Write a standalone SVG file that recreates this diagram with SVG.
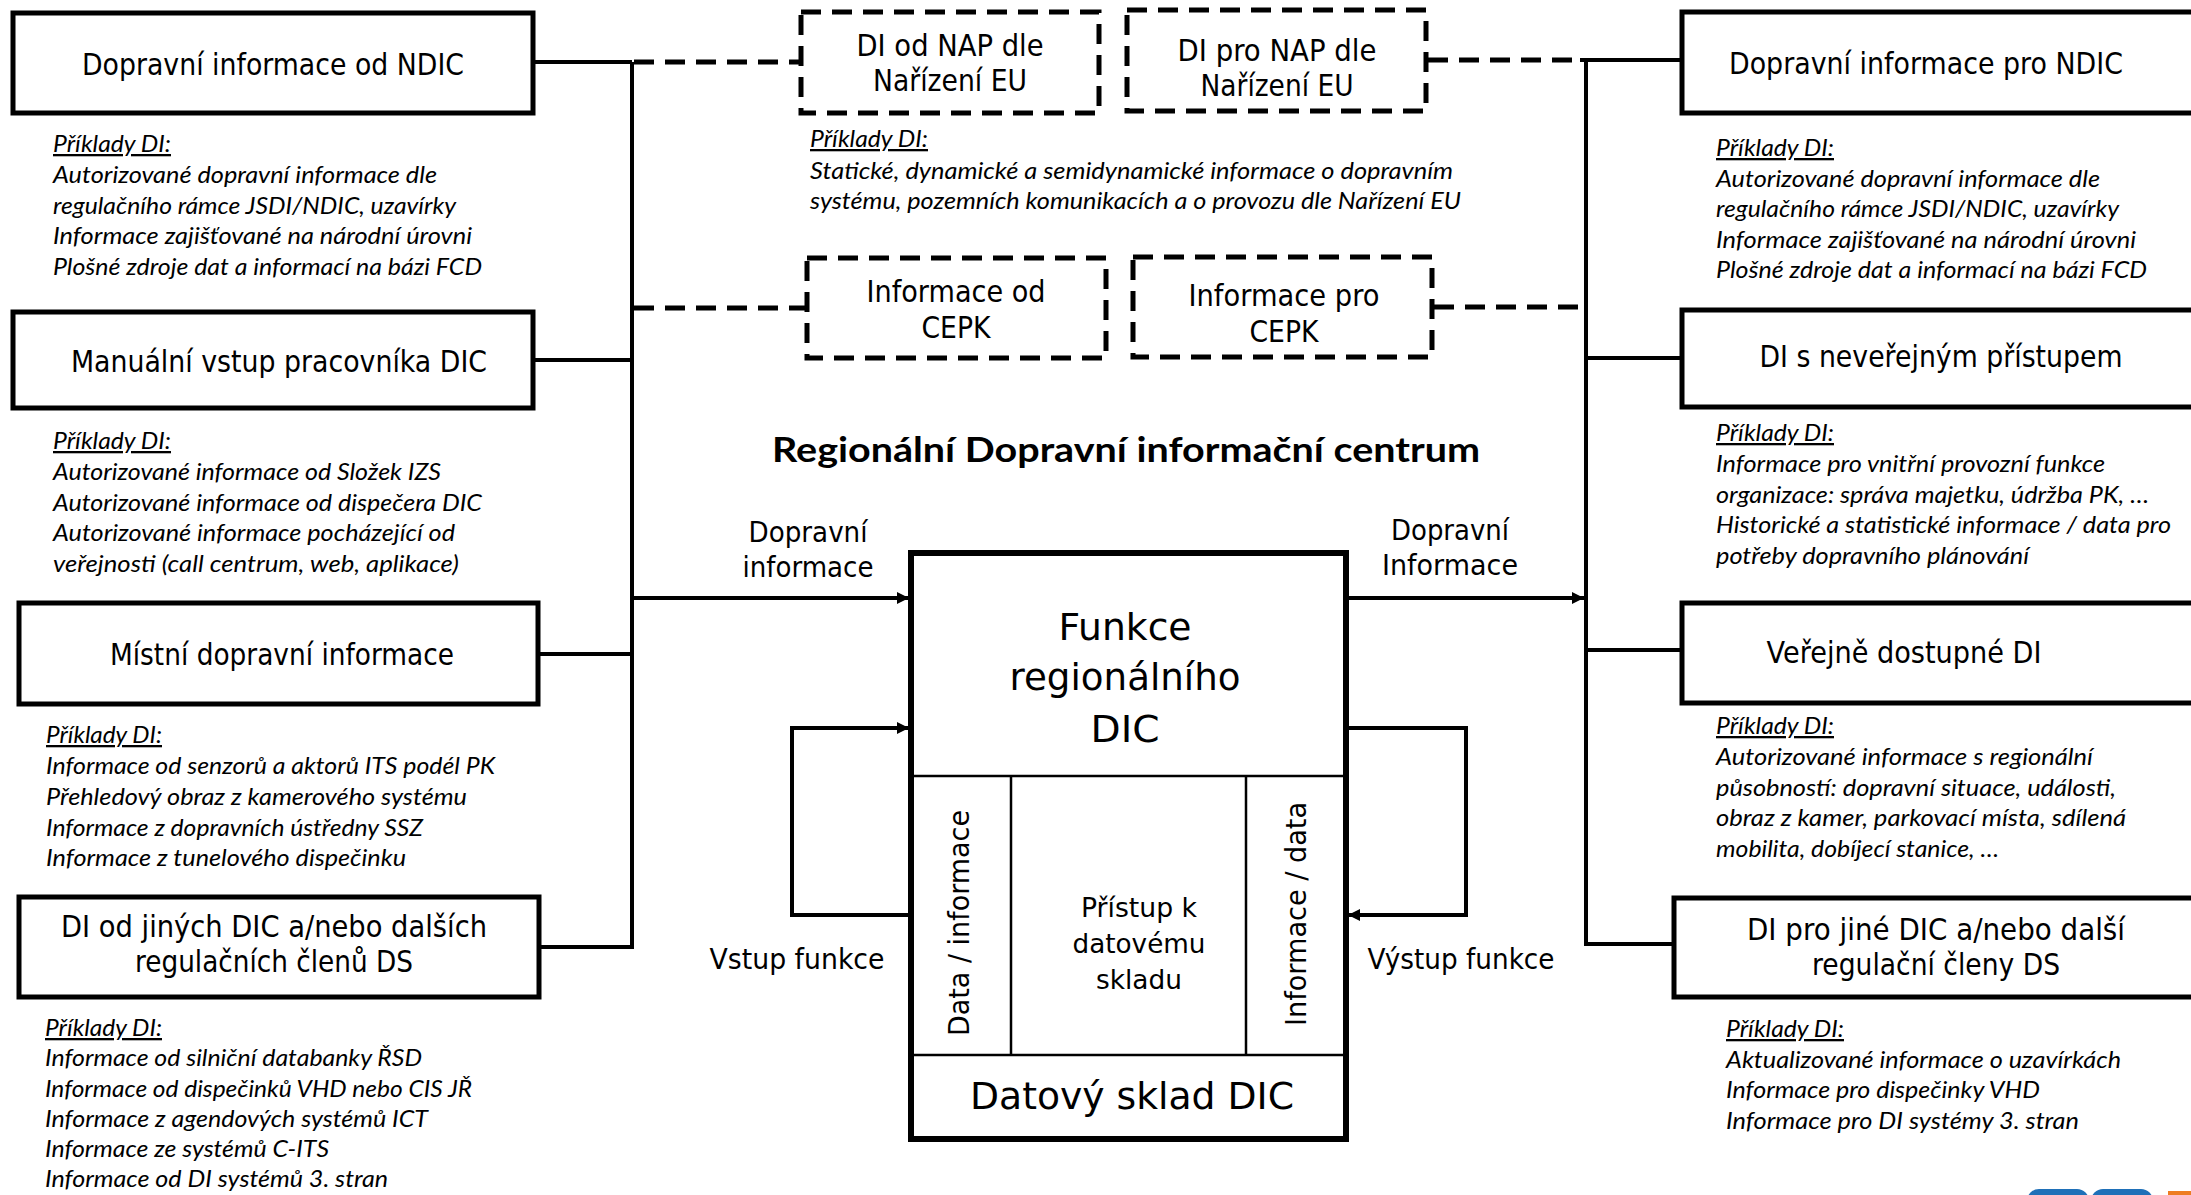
<svg xmlns="http://www.w3.org/2000/svg" width="2191" height="1195" viewBox="0 0 2191 1195">
<style>
.box{fill:#fff;stroke:#000;stroke-width:5}
.dbox{fill:#fff;stroke:#000;stroke-width:5;stroke-dasharray:20 11}
.cbox{fill:#fff;stroke:#000;stroke-width:6}
.thin{stroke:#000;stroke-width:2.5;fill:none}
.ln{stroke:#000;stroke-width:4;fill:none}
.dl{stroke:#000;stroke-width:5;stroke-dasharray:20 11;fill:none}
.lbl{font-family:"DejaVu Sans",sans-serif;font-size:31px;text-anchor:middle;fill:#000}
.sm{font-family:"DejaVu Sans",sans-serif;font-size:28px;text-anchor:middle;fill:#000}
.big{font-family:"DejaVu Sans",sans-serif;font-size:38px;text-anchor:middle;fill:#000}
.ex{font-family:Lato,"Noto Sans",sans-serif;font-style:italic;font-size:23px;fill:#000}
.hd{text-decoration:underline}
.title{font-family:Lato,"Noto Sans",sans-serif;font-weight:bold;font-size:35px;text-anchor:middle;fill:#000}
</style>
<defs>
<marker id="arr" viewBox="0 0 12 12" refX="12" refY="6" markerWidth="12" markerHeight="12" markerUnits="userSpaceOnUse" orient="auto">
<path d="M0,0 L12,6 L0,12 z" fill="#000"/>
</marker>
</defs>
<rect width="2191" height="1195" fill="#fff"/>

<g id="connectors">
<line class="ln" x1="632" y1="62" x2="632" y2="947"/>
<line class="ln" x1="533" y1="62" x2="632" y2="62"/>
<line class="ln" x1="533" y1="360" x2="632" y2="360"/>
<line class="ln" x1="538" y1="654" x2="632" y2="654"/>
<line class="ln" x1="539" y1="947" x2="634" y2="947"/>
<line class="dl" x1="634" y1="62" x2="801" y2="62"/>
<line class="dl" x1="634" y1="308" x2="807" y2="308"/>
<line class="ln" x1="632" y1="598" x2="909" y2="598" marker-end="url(#arr)"/>
<line class="ln" x1="1586" y1="60" x2="1586" y2="944"/>
<line class="ln" x1="1580" y1="60" x2="1682" y2="60"/>
<line class="ln" x1="1586" y1="358" x2="1682" y2="358"/>
<line class="ln" x1="1586" y1="650" x2="1682" y2="650"/>
<line class="ln" x1="1584" y1="944" x2="1674" y2="944"/>
<line class="dl" x1="1428" y1="60" x2="1580" y2="60"/>
<line class="dl" x1="1434" y1="307" x2="1586" y2="307"/>
<line class="ln" x1="1346" y1="598" x2="1584" y2="598" marker-end="url(#arr)"/>
<polyline class="ln" points="911,915 792,915 792,728 909,728" marker-end="url(#arr)"/>
<polyline class="ln" points="1346,728 1466,728 1466,915 1348,915" marker-end="url(#arr)"/>
</g>

<g id="n-ndic-in">
<rect class="box" x="13" y="13" width="520" height="100"/>
<text class="lbl" x="273" y="75" textLength="382" lengthAdjust="spacingAndGlyphs">Dopravní informace od NDIC</text>
</g>
<g id="ex-ndic-in" class="ex">
<text class="hd" x="53" y="152" textLength="118" lengthAdjust="spacingAndGlyphs">Příklady DI:</text>
<text x="53" y="183" textLength="384" lengthAdjust="spacingAndGlyphs">Autorizované dopravní informace dle</text>
<text x="53" y="214" textLength="403" lengthAdjust="spacingAndGlyphs">regulačního rámce JSDI/NDIC, uzavírky</text>
<text x="53" y="244" textLength="419" lengthAdjust="spacingAndGlyphs">Informace zajišťované na národní úrovni</text>
<text x="53" y="275" textLength="429" lengthAdjust="spacingAndGlyphs">Plošné zdroje dat a informací na bázi FCD</text>
</g>

<g id="n-manual">
<rect class="box" x="13" y="312" width="520" height="96"/>
<text class="lbl" x="279" y="372" textLength="416" lengthAdjust="spacingAndGlyphs">Manuální vstup pracovníka DIC</text>
</g>
<g id="ex-manual" class="ex">
<text class="hd" x="53" y="449" textLength="118" lengthAdjust="spacingAndGlyphs">Příklady DI:</text>
<text x="53" y="480" textLength="388" lengthAdjust="spacingAndGlyphs">Autorizované informace od Složek IZS</text>
<text x="53" y="511" textLength="429" lengthAdjust="spacingAndGlyphs">Autorizované informace od dispečera DIC</text>
<text x="53" y="541" textLength="402" lengthAdjust="spacingAndGlyphs">Autorizované informace pocházející od</text>
<text x="53" y="572" textLength="406" lengthAdjust="spacingAndGlyphs">veřejnosti (call centrum, web, aplikace)</text>
</g>

<g id="n-local">
<rect class="box" x="19" y="603" width="519" height="101"/>
<text class="lbl" x="282" y="665" textLength="344" lengthAdjust="spacingAndGlyphs">Místní dopravní informace</text>
</g>
<g id="ex-local" class="ex">
<text class="hd" x="46" y="743" textLength="116" lengthAdjust="spacingAndGlyphs">Příklady DI:</text>
<text x="46" y="774" textLength="449" lengthAdjust="spacingAndGlyphs">Informace od senzorů a aktorů ITS podél PK</text>
<text x="46" y="805" textLength="421" lengthAdjust="spacingAndGlyphs">Přehledový obraz z kamerového systému</text>
<text x="46" y="836" textLength="377" lengthAdjust="spacingAndGlyphs">Informace z dopravních ústředny SSZ</text>
<text x="46" y="866" textLength="360" lengthAdjust="spacingAndGlyphs">Informace z tunelového dispečinku</text>
</g>

<g id="n-other-in">
<rect class="box" x="19" y="897" width="520" height="100"/>
<text class="lbl" x="274" y="937" textLength="426" lengthAdjust="spacingAndGlyphs">DI od jiných DIC a/nebo dalších</text>
<text class="lbl" x="274" y="972" textLength="278" lengthAdjust="spacingAndGlyphs">regulačních členů DS</text>
</g>
<g id="ex-other-in" class="ex">
<text class="hd" x="45" y="1036" textLength="117" lengthAdjust="spacingAndGlyphs">Příklady DI:</text>
<text x="45" y="1066" textLength="377" lengthAdjust="spacingAndGlyphs">Informace od silniční databanky ŘSD</text>
<text x="45" y="1097" textLength="427" lengthAdjust="spacingAndGlyphs">Informace od dispečinků VHD nebo CIS JŘ</text>
<text x="45" y="1127" textLength="383" lengthAdjust="spacingAndGlyphs">Informace z agendových systémů ICT</text>
<text x="45" y="1157" textLength="284" lengthAdjust="spacingAndGlyphs">Informace ze systémů C-ITS</text>
<text x="45" y="1187" textLength="343" lengthAdjust="spacingAndGlyphs">Informace od DI systémů 3. stran</text>
</g>

<g id="n-nap-in">
<rect class="dbox" x="801" y="12" width="298" height="101"/>
<text class="lbl" x="950" y="56" style="font-size:30px" textLength="187" lengthAdjust="spacingAndGlyphs">DI od NAP dle</text>
<text class="lbl" x="950" y="91" style="font-size:30px" textLength="154" lengthAdjust="spacingAndGlyphs">Nařízení EU</text>
</g>
<g id="n-nap-out">
<rect class="dbox" x="1127" y="10" width="299" height="101"/>
<text class="lbl" x="1277" y="61" style="font-size:30px" textLength="199" lengthAdjust="spacingAndGlyphs">DI pro NAP dle</text>
<text class="lbl" x="1277" y="96" style="font-size:30px" textLength="153" lengthAdjust="spacingAndGlyphs">Nařízení EU</text>
</g>
<g id="ex-nap" class="ex">
<text class="hd" x="810" y="147" textLength="118" lengthAdjust="spacingAndGlyphs">Příklady DI:</text>
<text x="810" y="179" textLength="643" lengthAdjust="spacingAndGlyphs">Statické, dynamické a semidynamické informace o dopravním</text>
<text x="810" y="209" textLength="651" lengthAdjust="spacingAndGlyphs">systému, pozemních komunikacích a o provozu dle Nařízení EU</text>
</g>
<g id="n-cepk-in">
<rect class="dbox" x="807" y="258" width="299" height="100"/>
<text class="lbl" x="956" y="302" style="font-size:30px" textLength="179" lengthAdjust="spacingAndGlyphs">Informace od</text>
<text class="lbl" x="956" y="338" style="font-size:30px" textLength="69" lengthAdjust="spacingAndGlyphs">CEPK</text>
</g>
<g id="n-cepk-out">
<rect class="dbox" x="1133" y="257" width="299" height="100"/>
<text class="lbl" x="1284" y="306" style="font-size:30px" textLength="191" lengthAdjust="spacingAndGlyphs">Informace pro</text>
<text class="lbl" x="1284" y="342" style="font-size:30px" textLength="69" lengthAdjust="spacingAndGlyphs">CEPK</text>
</g>

<g id="title">
<text class="title" x="1126" y="462" textLength="708" lengthAdjust="spacingAndGlyphs">Regionální Dopravní informační centrum</text>
</g>

<g id="labels">
<text class="sm" x="808" y="542" textLength="119" lengthAdjust="spacingAndGlyphs">Dopravní</text>
<text class="sm" x="808" y="577" textLength="131" lengthAdjust="spacingAndGlyphs">informace</text>
<text class="sm" x="1450" y="540" textLength="118" lengthAdjust="spacingAndGlyphs">Dopravní</text>
<text class="sm" x="1450" y="575" textLength="136" lengthAdjust="spacingAndGlyphs">Informace</text>
<text class="sm" x="797" y="969" textLength="175" lengthAdjust="spacingAndGlyphs">Vstup funkce</text>
<text class="sm" x="1461" y="969" textLength="187" lengthAdjust="spacingAndGlyphs">Výstup funkce</text>
</g>

<g id="n-center">
<rect class="cbox" x="911" y="553" width="435" height="586"/>
<line class="thin" x1="911" y1="776" x2="1346" y2="776"/>
<line class="thin" x1="911" y1="1055" x2="1346" y2="1055"/>
<line class="thin" x1="1011" y1="776" x2="1011" y2="1055"/>
<line class="thin" x1="1246" y1="776" x2="1246" y2="1055"/>
<text class="big" x="1125" y="640" textLength="133" lengthAdjust="spacingAndGlyphs">Funkce</text>
<text class="big" x="1125" y="690" textLength="231" lengthAdjust="spacingAndGlyphs">regionálního</text>
<text class="big" x="1125" y="742" textLength="69" lengthAdjust="spacingAndGlyphs">DIC</text>
<text class="sm" x="1139" y="917" style="font-size:27px" textLength="116" lengthAdjust="spacingAndGlyphs">Přístup k</text>
<text class="sm" x="1139" y="953" style="font-size:27px" textLength="133" lengthAdjust="spacingAndGlyphs">datovému</text>
<text class="sm" x="1139" y="989" style="font-size:27px" textLength="86" lengthAdjust="spacingAndGlyphs">skladu</text>
<text class="sm" transform="translate(969,923) rotate(-90)" x="0" y="0" style="font-size:29px" textLength="226" lengthAdjust="spacingAndGlyphs">Data  / informace</text>
<text class="sm" transform="translate(1306,914) rotate(-90)" x="0" y="0" style="font-size:29px" textLength="224" lengthAdjust="spacingAndGlyphs">Informace / data</text>
<text class="big" x="1132" y="1109" textLength="324" lengthAdjust="spacingAndGlyphs">Datový sklad DIC</text>
</g>

<g id="n-ndic-out">
<rect class="box" x="1682" y="12" width="530" height="101"/>
<text class="lbl" x="1926" y="74" textLength="394" lengthAdjust="spacingAndGlyphs">Dopravní informace pro NDIC</text>
</g>
<g id="ex-ndic-out" class="ex">
<text class="hd" x="1716" y="156" textLength="118" lengthAdjust="spacingAndGlyphs">Příklady DI:</text>
<text x="1716" y="187" textLength="384" lengthAdjust="spacingAndGlyphs">Autorizované dopravní informace dle</text>
<text x="1716" y="217" textLength="403" lengthAdjust="spacingAndGlyphs">regulačního rámce JSDI/NDIC, uzavírky</text>
<text x="1716" y="248" textLength="420" lengthAdjust="spacingAndGlyphs">Informace zajišťované na národní úrovni</text>
<text x="1716" y="278" textLength="431" lengthAdjust="spacingAndGlyphs">Plošné zdroje dat a informací na bázi FCD</text>
</g>

<g id="n-private">
<rect class="box" x="1682" y="310" width="530" height="97"/>
<text class="lbl" x="1941" y="367" textLength="363" lengthAdjust="spacingAndGlyphs">DI s neveřejným přístupem</text>
</g>
<g id="ex-private" class="ex">
<text class="hd" x="1716" y="441" textLength="118" lengthAdjust="spacingAndGlyphs">Příklady DI:</text>
<text x="1716" y="472" textLength="389" lengthAdjust="spacingAndGlyphs">Informace pro vnitřní provozní funkce</text>
<text x="1716" y="503" textLength="433" lengthAdjust="spacingAndGlyphs">organizace: správa majetku, údržba PK, …</text>
<text x="1716" y="533" textLength="455" lengthAdjust="spacingAndGlyphs">Historické a statistické informace / data pro</text>
<text x="1716" y="564" textLength="313" lengthAdjust="spacingAndGlyphs">potřeby dopravního plánování</text>
</g>

<g id="n-public">
<rect class="box" x="1682" y="603" width="530" height="100"/>
<text class="lbl" x="1904" y="663" textLength="275" lengthAdjust="spacingAndGlyphs">Veřejně dostupné DI</text>
</g>
<g id="ex-public" class="ex">
<text class="hd" x="1716" y="734" textLength="118" lengthAdjust="spacingAndGlyphs">Příklady DI:</text>
<text x="1716" y="765" textLength="377" lengthAdjust="spacingAndGlyphs">Autorizované informace s regionální</text>
<text x="1716" y="796" textLength="400" lengthAdjust="spacingAndGlyphs">působností: dopravní situace, události,</text>
<text x="1716" y="826" textLength="410" lengthAdjust="spacingAndGlyphs">obraz z kamer, parkovací místa, sdílená</text>
<text x="1716" y="857" textLength="283" lengthAdjust="spacingAndGlyphs">mobilita, dobíjecí stanice, …</text>
</g>

<g id="n-other-out">
<rect class="box" x="1674" y="898" width="538" height="99"/>
<text class="lbl" x="1936" y="940" textLength="378" lengthAdjust="spacingAndGlyphs">DI pro jiné DIC a/nebo další</text>
<text class="lbl" x="1936" y="975" textLength="248" lengthAdjust="spacingAndGlyphs">regulační členy DS</text>
</g>
<g id="ex-other-out" class="ex">
<text class="hd" x="1726" y="1037" textLength="118" lengthAdjust="spacingAndGlyphs">Příklady DI:</text>
<text x="1726" y="1068" textLength="395" lengthAdjust="spacingAndGlyphs">Aktualizované informace o uzavírkách</text>
<text x="1726" y="1098" textLength="314" lengthAdjust="spacingAndGlyphs">Informace pro dispečinky VHD</text>
<text x="1726" y="1129" textLength="353" lengthAdjust="spacingAndGlyphs">Informace pro DI systémy 3. stran</text>
</g>

<g id="logo">
<rect x="2027" y="1189" width="62" height="24" rx="12" fill="#1f70b8"/>
<rect x="2091" y="1189" width="62" height="24" rx="12" fill="#1f70b8"/>
<rect x="2168" y="1191" width="26" height="10" fill="#ee7d22"/>
</g>
</svg>
